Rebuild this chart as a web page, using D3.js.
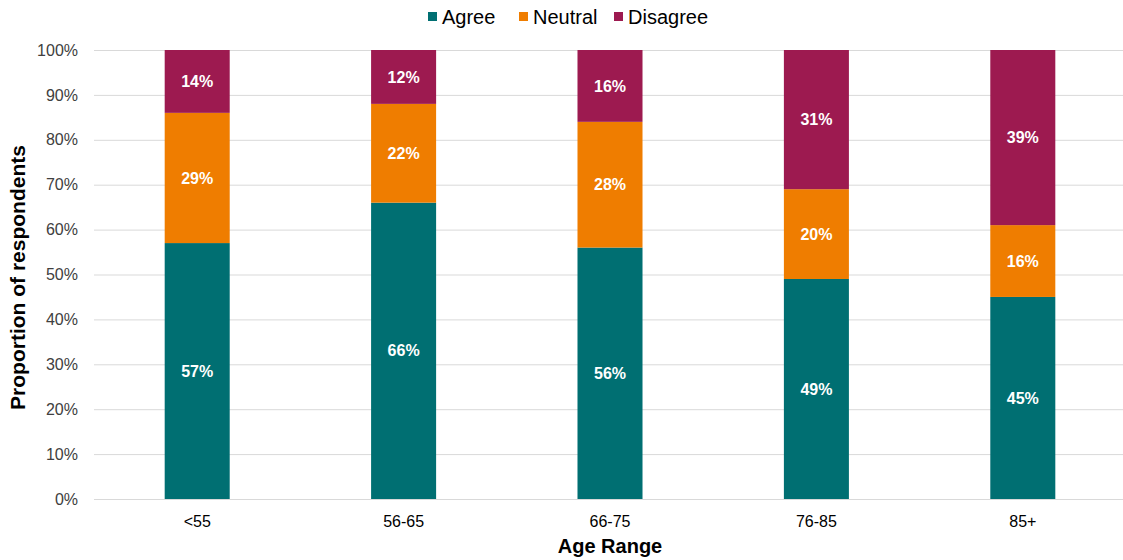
<!DOCTYPE html>
<html>
<head>
<meta charset="utf-8">
<script src="https://cdn.jsdelivr.net/npm/d3@7"></script>
<style>
  body { margin: 0; background: #fff; }
  svg { display: block; font-family: "Liberation Sans", Arial, sans-serif; }
</style>
</head>
<body>
<svg id="chart" width="1123" height="560"></svg>
<script>
// Survey responses by age range (percent of respondents)
const ageRanges = ["<55", "56-65", "66-75", "76-85", "85+"];
const agree    = [57, 66, 56, 49, 45];
const neutral  = [29, 22, 28, 20, 16];
const disagree = [14, 12, 16, 31, 39];
const seriesNames = ["Agree", "Neutral", "Disagree"];
const seriesColors = ["#006f72", "#ef7d00", "#9d1a50"];
const yTicks = [0, 10, 20, 30, 40, 50, 60, 70, 80, 90, 100];

const svg = d3.select("#chart");
const margin = { left: 94, right: -3, top: 50, bottom: 61 };
const W = 1123, H = 560;

const rows = ageRanges.map((a, i) => ({
  age: a, Agree: agree[i], Neutral: neutral[i], Disagree: disagree[i]
}));
const stacked = d3.stack().keys(seriesNames)(rows);

const x = d3.scaleBand()
  .domain(ageRanges)
  .range([margin.left, W - margin.right])
  .paddingInner(0.685)
  .paddingOuter(0.3425);
const y = d3.scaleLinear()
  .domain([0, 100])
  .range([H - margin.bottom, margin.top]);
const color = d3.scaleOrdinal().domain(seriesNames).range(seriesColors);

// Gridlines and y-axis labels
const yAxis = d3.axisLeft(y)
  .tickValues(yTicks)
  .tickFormat(d => d + "%")
  .tickSize(-(W - margin.left))
  .tickPadding(16);
const yg = svg.append("g")
  .attr("transform", `translate(${margin.left},0)`)
  .call(yAxis);
yg.select(".domain").remove();
yg.selectAll(".tick line").attr("stroke", "#d9d9d9").attr("stroke-width", 1);
yg.selectAll(".tick text")
  .attr("fill", "#404040")
  .style("font-size", "16px");

// Stacked bars
const layers = svg.append("g").selectAll("g")
  .data(stacked)
  .join("g")
  .attr("fill", d => color(d.key));

layers.selectAll("rect")
  .data(d => d)
  .join("rect")
  .attr("x", d => x(d.data.age))
  .attr("width", x.bandwidth())
  .attr("y", d => y(d[1]))
  .attr("height", d => y(d[0]) - y(d[1]));

// Value labels inside each segment
layers.selectAll("text")
  .data(d => d.map(v => ({ v, key: d.key })))
  .join("text")
  .attr("x", d => x(d.v.data.age) + x.bandwidth() / 2)
  .attr("y", d => y((d.v[0] + d.v[1]) / 2))
  .attr("dy", "0.35em")
  .attr("text-anchor", "middle")
  .attr("fill", "#fff")
  .style("font-size", "16px")
  .style("font-weight", "bold")
  .text(d => (d.v[1] - d.v[0]) + "%");

// X-axis category labels
const xAxis = d3.axisBottom(x).tickSize(0).tickPadding(16.5);
const xg = svg.append("g")
  .attr("transform", `translate(0,${H - margin.bottom})`)
  .call(xAxis);
xg.select(".domain").remove();
xg.selectAll(".tick text")
  .attr("fill", "#000")
  .style("font-size", "16px");

// Axis titles
svg.append("text")
  .attr("x", 610)
  .attr("y", 553)
  .attr("text-anchor", "middle")
  .style("font-size", "20px")
  .style("font-weight", "bold")
  .attr("fill", "#000")
  .text("Age Range");

svg.append("text")
  .attr("transform", `translate(25,${(margin.top + H - margin.bottom) / 2 + 3}) rotate(-90)`)
  .attr("text-anchor", "middle")
  .style("font-size", "21px")
  .style("font-weight", "bold")
  .attr("fill", "#000")
  .text("Proportion of respondents");

// Legend
const legendX = [428, 519, 614];
const legend = svg.append("g").selectAll("g")
  .data(seriesNames)
  .join("g")
  .attr("transform", (d, i) => `translate(${legendX[i]},0)`);
legend.append("rect")
  .attr("x", 0).attr("y", 12)
  .attr("width", 9).attr("height", 9)
  .attr("fill", d => color(d));
legend.append("text")
  .attr("x", 14).attr("y", 23.5)
  .style("font-size", "20px")
  .attr("fill", "#000")
  .text(d => d);
</script>
</body>
</html>
